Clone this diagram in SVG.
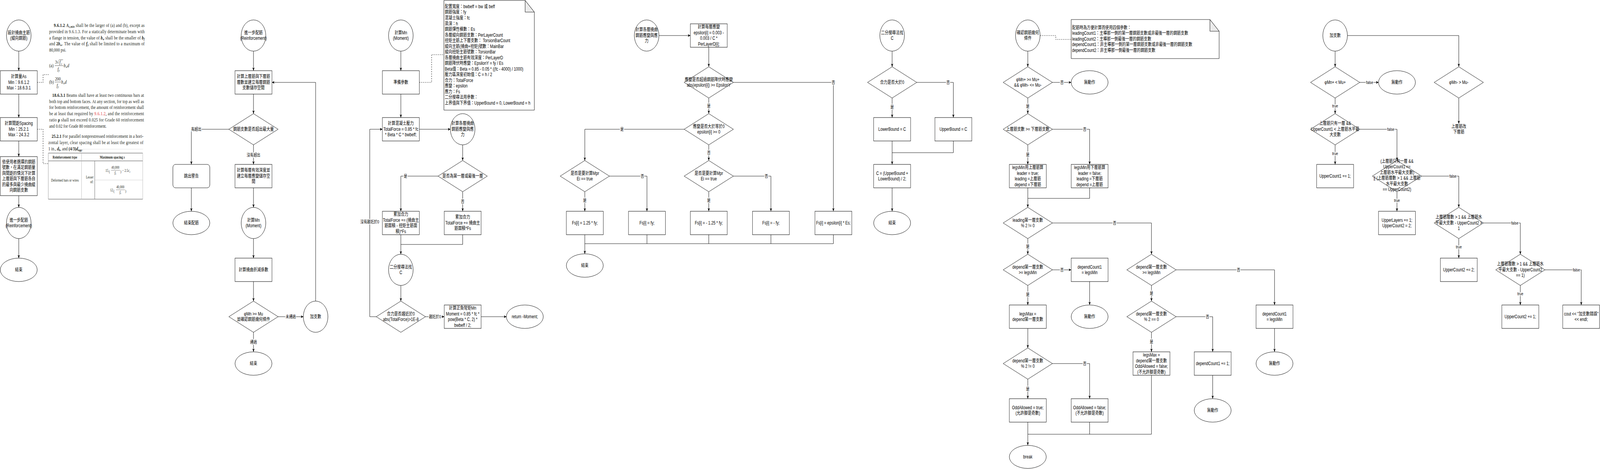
<svg xmlns="http://www.w3.org/2000/svg" width="5201" height="1201" viewBox="0 0 5201 1201" preserveAspectRatio="none">
<defs>
<marker id="ah" viewBox="0 0 10 10" refX="10" refY="5" markerWidth="8" markerHeight="8" markerUnits="userSpaceOnUse" orient="auto"><path d="M0,0.5 L10,5 L0,9.5 L2.5,5 z" fill="#000"/></marker>
<style>
:root{width:100vw;height:100vh}
.s{fill:#fff;stroke:#000;stroke-width:1}
.t{font-family:"Liberation Sans",Arial,"Noto Sans CJK TC",sans-serif;font-size:12px;text-anchor:middle;fill:#000}
.nt{font-family:"Liberation Sans",Arial,"Noto Sans CJK TC",sans-serif;font-size:12px;fill:#000}
.lb{font-family:"Liberation Sans",Arial,"Noto Sans CJK TC",sans-serif;font-size:11px;text-anchor:middle;fill:#000;stroke:#fff;stroke-width:4px;paint-order:stroke;stroke-linejoin:round}
.e{fill:none;stroke:#000;stroke-width:1}
.ea{fill:none;stroke:#000;stroke-width:1;marker-end:url(#ah)}
.dash{fill:none;stroke:#000;stroke-width:1;stroke-dasharray:3 3}
.ser{font-family:"Liberation Serif","Times New Roman",serif;font-size:12.5px;fill:#231f20}
.tb{font-family:"Liberation Serif","Times New Roman",serif;font-size:9.5px;fill:#231f20}
.b{font-weight:bold}
.i{font-style:italic}
.fold{fill:#ebebeb;stroke:#000;stroke-width:1}
</style>
</defs>
<rect width="5201" height="1201" fill="#fff"/>

<!-- ================= ACI code excerpt ================= -->
<g id="aci-excerpt">
<text class="ser" x="175" y="69" textLength="295" lengthAdjust="spacing"><tspan class="b">9.6.1.2</tspan> <tspan class="b i">A</tspan><tspan class="b i" font-size="8" dy="2">s,min</tspan><tspan dy="-2"> shall be the larger of (a) and (b), except as</tspan></text>
<text class="ser" x="160" y="85" textLength="310" lengthAdjust="spacing">provided in 9.6.1.3. For a statically determinate beam with</text>
<text class="ser" x="160" y="101" textLength="310" lengthAdjust="spacing">a flange in tension, the value of <tspan class="b i">b</tspan><tspan class="b i" font-size="8" dy="2">w</tspan><tspan dy="-2"> shall be the smaller of </tspan><tspan class="b i">b</tspan><tspan class="b i" font-size="8" dy="2">f</tspan></text>
<text class="ser" x="160" y="116" textLength="310" lengthAdjust="spacing">and <tspan class="b">2</tspan><tspan class="b i">b</tspan><tspan class="b i" font-size="8" dy="2">w</tspan><tspan dy="-2">. The value of </tspan><tspan class="b i">f</tspan><tspan class="b i" font-size="8" dy="2">y</tspan><tspan dy="-2"> shall be limited to a maximum of</tspan></text>
<text class="ser" x="160" y="132">80,000 psi.</text>
<text class="ser" x="160" y="172">(a)</text>
<text class="ser" x="179" y="163">3</text><text class="ser" x="185" y="163">√</text>
<line x1="192" y1="153" x2="205" y2="153" stroke="#231f20" stroke-width="0.8"/>
<text class="ser" x="193" y="164"><tspan class="i">f</tspan><tspan font-size="8" dy="-4">′</tspan><tspan class="i" font-size="8" dy="6">c</tspan></text>
<line x1="178" y1="168" x2="206" y2="168" stroke="#231f20" stroke-width="0.8"/>
<text class="ser" x="187" y="181"><tspan class="i">f</tspan><tspan class="i" font-size="8" dy="2">y</tspan></text>
<text class="ser" x="207" y="172"><tspan class="i">b</tspan><tspan class="i" font-size="8" dy="2">w</tspan><tspan class="i" dy="-2">d</tspan></text>
<text class="ser" x="160" y="214">(b)</text>
<text class="ser" x="188" y="206" text-anchor="middle">200</text>
<line x1="178" y1="210" x2="198" y2="210" stroke="#231f20" stroke-width="0.8"/>
<text class="ser" x="184" y="223"><tspan class="i">f</tspan><tspan class="i" font-size="8" dy="2">y</tspan></text>
<text class="ser" x="199" y="214"><tspan class="i">b</tspan><tspan class="i" font-size="8" dy="2">w</tspan><tspan class="i" dy="-2">d</tspan></text>
<text class="ser" x="170" y="248" textLength="298" lengthAdjust="spacing"><tspan class="b">18.6.3.1</tspan> Beams shall have at least two continuous bars at</text>
<text class="ser" x="160" y="264" textLength="308" lengthAdjust="spacing">both top and bottom faces. At any section, for top as well as</text>
<text class="ser" x="160" y="279" textLength="308" lengthAdjust="spacing">for bottom reinforcement, the amount of reinforcement shall</text>
<text class="ser" x="160" y="295" textLength="308" lengthAdjust="spacing">be at least that required by <tspan fill="#e03a3e">9.6.1.2</tspan>, and the reinforcement</text>
<text class="ser" x="160" y="311" textLength="308" lengthAdjust="spacing">ratio <tspan class="b">ρ</tspan> shall not exceed 0.025 for Grade 60 reinforcement</text>
<text class="ser" x="160" y="327">and 0.02 for Grade 80 reinforcement.</text>
<text class="ser" x="168" y="353" textLength="298" lengthAdjust="spacing"><tspan class="b">25.2.1</tspan> For parallel nonprestressed reinforcement in a hori-</text>
<text class="ser" x="157" y="369" textLength="309" lengthAdjust="spacing">zontal layer, clear spacing shall be at least the greatest of</text>
<text class="ser" x="157" y="385">1 in., <tspan class="b i">d</tspan><tspan class="b i" font-size="8" dy="2">b</tspan><tspan dy="-2">, and </tspan><tspan class="b">(4/3)</tspan><tspan class="b i">d</tspan><tspan class="b i" font-size="8" dy="2">agg</tspan><tspan dy="-2">.</tspan></text>
<line x1="268" y1="382" x2="465" y2="382" stroke="#dddddd" stroke-width="1"/>
<line x1="157" y1="392" x2="464" y2="392" stroke="#333" stroke-width="1"/>
<line x1="157" y1="412" x2="464" y2="412" stroke="#333" stroke-width="1"/>
<line x1="157" y1="510" x2="464" y2="510" stroke="#333" stroke-width="1"/>
<line x1="157" y1="392" x2="157" y2="510" stroke="#999" stroke-width="1"/>
<line x1="265" y1="392" x2="265" y2="510" stroke="#bbb" stroke-width="1"/>
<line x1="308" y1="412" x2="308" y2="510" stroke="#666" stroke-width="1"/>
<line x1="464" y1="392" x2="464" y2="510" stroke="#bbb" stroke-width="1"/>
<line x1="308" y1="461" x2="464" y2="461" stroke="#ccc" stroke-width="1"/>
<text class="tb b" x="211" y="406" text-anchor="middle">Reinforcement type</text>
<text class="tb b" x="365" y="406" text-anchor="middle">Maximum spacing <tspan class="i">s</tspan></text>
<text class="tb" x="211" y="465" text-anchor="middle">Deformed bars or wires</text>
<text class="tb" x="304" y="457" text-anchor="end">Lesser</text>
<text class="tb" x="304" y="469" text-anchor="end">of:</text>
<text class="tb" x="343" y="440">15</text>
<text class="tb" x="354" y="443" font-size="15">(</text>
<text class="tb" x="375" y="432" text-anchor="middle" font-size="8.5">40,000</text>
<line x1="361" y1="436" x2="390" y2="436" stroke="#231f20" stroke-width="0.6"/>
<text class="tb" x="375" y="446" text-anchor="middle" font-size="8.5"><tspan class="i">f</tspan><tspan class="i" font-size="6.5" dy="1.5">s</tspan></text>
<text class="tb" x="391" y="443" font-size="15">)</text>
<text class="tb" x="397" y="440">− 2.5<tspan class="i">c</tspan><tspan class="i" font-size="7" dy="2">c</tspan></text>
<text class="tb" x="358" y="490">12</text>
<text class="tb" x="369" y="493" font-size="15">(</text>
<text class="tb" x="391" y="482" text-anchor="middle" font-size="8.5">40,000</text>
<line x1="377" y1="486" x2="406" y2="486" stroke="#231f20" stroke-width="0.6"/>
<text class="tb" x="391" y="496" text-anchor="middle" font-size="8.5"><tspan class="i">f</tspan><tspan class="i" font-size="6.5" dy="1.5">s</tspan></text>
<text class="tb" x="407" y="493" font-size="15">)</text>
</g>

<!-- ================= Connectors ================= -->
<g id="connectors">
<path class="ea" d="M61,131 V181"/>
<path class="ea" d="M61,241 V301"/>
<path class="ea" d="M61,361 V401"/>
<path class="ea" d="M61,501 V531"/>
<path class="ea" d="M61,611 V661"/>
<path class="dash" d="M121,211 H140 V191 H158"/>
<path class="dash" d="M121,331 H140 V419 H157"/>
<path class="ea" d="M824,131 V181"/>
<path class="ea" d="M824,241 V291"/>
<path class="ea" d="M744,331 H622 V421"/>
<path class="ea" d="M622,481 V541"/>
<path class="ea" d="M824,371 V421"/>
<path class="ea" d="M824,481 V531"/>
<path class="ea" d="M824,611 V661"/>
<path class="ea" d="M824,721 V771"/>
<path class="ea" d="M904,811 H986"/>
<path class="ea" d="M1026,771 V211 H884"/>
<path class="ea" d="M824,851 V901"/>
<text class="lb" x="638" y="335">有超出</text>
<text class="lb" x="824" y="401">沒有超出</text>
<text class="lb" x="945" y="815">未通過</text>
<text class="lb" x="824" y="880">通過</text>
<path class="ea" d="M1303,131 V181"/>
<path class="dash" d="M1363,211 H1403 V140 H1443"/>
<path class="ea" d="M1303,241 V301"/>
<path class="ea" d="M1363,331 H1464"/>
<path class="ea" d="M1504,371 V411"/>
<path class="ea" d="M1424,451 H1303 V541"/>
<path class="ea" d="M1504,491 V541"/>
<path class="ea" d="M1303,601 V651"/>
<path class="e" d="M1504,601 V626 H1303"/>
<path class="ea" d="M1303,731 V771"/>
<path class="ea" d="M1383,811 H1444"/>
<path class="ea" d="M1564,811 H1646"/>
<path class="ea" d="M1223,811 H1202 V331 H1243"/>
<text class="lb" x="1318" y="455">是</text>
<text class="lb" x="1504" y="520">否</text>
<text class="lb" x="1202" y="572">沒有趨近於0</text>
<text class="lb" x="1414" y="815">趨近於0</text>
<path class="ea" d="M2142,91 H2244"/>
<path class="ea" d="M2304,121 V171"/>
<path class="ea" d="M2384,211 H2709 V541"/>
<path class="ea" d="M2304,251 V291"/>
<path class="ea" d="M2224,331 H1901 V411"/>
<path class="ea" d="M2304,371 V411"/>
<path class="ea" d="M1981,451 H2103 V541"/>
<path class="ea" d="M1901,491 V541"/>
<path class="ea" d="M2384,451 H2506 V541"/>
<path class="ea" d="M2304,491 V541"/>
<path class="e" d="M2103,601 V624 M2304,601 V624 M2506,601 V624 M2709,601 V624 H1901 M1901,601 V624"/>
<path class="ea" d="M1901,624 V650"/>
<text class="lb" x="2709" y="215">否</text>
<text class="lb" x="2304" y="275">是</text>
<text class="lb" x="2022" y="335">是</text>
<text class="lb" x="2304" y="395">否</text>
<text class="lb" x="2088" y="455">否</text>
<text class="lb" x="1901" y="517">是</text>
<text class="lb" x="2491" y="455">否</text>
<text class="lb" x="2304" y="517">是</text>
<path class="ea" d="M2900,131 V171"/>
<path class="ea" d="M2980,211 H3099 V301"/>
<path class="ea" d="M2900,251 V301"/>
<path class="ea" d="M2900,361 V421"/>
<path class="e" d="M3099,361 V391 H2900"/>
<path class="ea" d="M2900,481 V541"/>
<text class="lb" x="3082" y="215">否</text>
<text class="lb" x="2900" y="278">是</text>
<path class="dash" d="M3381,91 H3432 V101 H3482"/>
<path class="ea" d="M3341,131 V171"/>
<path class="ea" d="M3421,211 H3482"/>
<path class="ea" d="M3341,251 V291"/>
<path class="ea" d="M3421,331 H3542 V421"/>
<path class="ea" d="M3341,371 V421"/>
<path class="ea" d="M3341,481 V531"/>
<path class="e" d="M3542,481 V508 H3341"/>
<path class="ea" d="M3421,571 H3743 V651"/>
<path class="ea" d="M3341,611 V651"/>
<path class="ea" d="M3421,691 H3482"/>
<path class="ea" d="M3542,721 V781"/>
<path class="ea" d="M3341,731 V781"/>
<path class="ea" d="M3341,841 V891"/>
<path class="ea" d="M3421,931 H3542 V1021"/>
<path class="ea" d="M3341,971 V1021"/>
<path class="ea" d="M3341,1081 V1140"/>
<path class="e" d="M3542,1081 V1112 M3743,961 V1112 H3341"/>
<path class="ea" d="M3823,691 H4143 V781"/>
<path class="ea" d="M4143,841 V901"/>
<path class="ea" d="M3743,731 V771"/>
<path class="ea" d="M3823,811 H3942 V901"/>
<path class="ea" d="M3942,961 V1021"/>
<path class="ea" d="M3743,851 V901"/>
<text class="lb" x="3452" y="215">否</text>
<text class="lb" x="3341" y="276">是</text>
<text class="lb" x="3526" y="335">否</text>
<text class="lb" x="3341" y="400">是</text>
<text class="lb" x="3623" y="575">否</text>
<text class="lb" x="3341" y="635">是</text>
<text class="lb" x="3452" y="695">否</text>
<text class="lb" x="3341" y="758">是</text>
<text class="lb" x="3526" y="935">否</text>
<text class="lb" x="3341" y="1000">是</text>
<text class="lb" x="4026" y="695">否</text>
<text class="lb" x="3743" y="755">是</text>
<text class="lb" x="3925" y="815">否</text>
<text class="lb" x="3743" y="879">是</text>
<path class="ea" d="M4340,131 V171"/>
<path class="ea" d="M4380,91 H4742 V171"/>
<path class="ea" d="M4420,211 H4481"/>
<path class="ea" d="M4742,251 V317"/>
<path class="ea" d="M4340,251 V291"/>
<path class="ea" d="M4420,331 H4541 V411"/>
<path class="ea" d="M4340,371 V421"/>
<path class="ea" d="M4621,451 H4742 V531"/>
<path class="ea" d="M4541,491 V541"/>
<path class="ea" d="M4822,571 H4942 V651"/>
<path class="ea" d="M4742,611 V661"/>
<path class="ea" d="M5022,691 H5140 V781"/>
<path class="ea" d="M4942,731 V781"/>
<text class="lb" x="4452" y="215">false</text>
<text class="lb" x="4340" y="275">true</text>
<text class="lb" x="4521" y="335">false</text>
<text class="lb" x="4340" y="397">true</text>
<text class="lb" x="4723" y="455">false</text>
<text class="lb" x="4541" y="517">true</text>
<text class="lb" x="4924" y="575">false</text>
<text class="lb" x="4742" y="636">true</text>
<text class="lb" x="5124" y="695">false</text>
<text class="lb" x="4942" y="756">true</text>
</g>

<g id="n1-start"><circle class="s" cx="61" cy="91" r="40"/><text class="t"><tspan x="61" y="87.8">設計撓曲主筋</tspan><tspan x="61" y="102.3">(縱向鋼筋)</tspan></text></g>
<g id="n1-as"><rect class="s" x="1" y="181" width="120" height="60"/><text class="t"><tspan x="61" y="200.5">計算量As</tspan><tspan x="61" y="215">Min：9.6.1.2</tspan><tspan x="61" y="229.5">Max：18.6.3.1</tspan></text></g>
<g id="n1-spacing"><rect class="s" x="1" y="301" width="120" height="60"/><text class="t"><tspan x="61" y="320.5">計算間距Spacing</tspan><tspan x="61" y="335">Min：25.2.1</tspan><tspan x="61" y="349.5">Max：24.3.2</tspan></text></g>
<g id="n1-count"><rect class="s" x="1" y="401" width="120" height="100"/><text class="t"><tspan x="61" y="418.8">依使用者選擇的鋼筋</tspan><tspan x="61" y="433.3">號數，在滿足鋼筋量</tspan><tspan x="61" y="447.8">與間距的情況下計算</tspan><tspan x="61" y="462.3">上層筋與下層筋各自</tspan><tspan x="61" y="476.8">的最多與最少撓曲縱</tspan><tspan x="61" y="491.3">向鋼筋支數</tspan></text></g>
<g id="n1-next"><circle class="s" cx="61" cy="571" r="40"/><text class="t"><tspan x="61" y="567.8">進一步配筋</tspan><tspan x="61" y="582.3">(Reinforcement)</tspan></text></g>
<g id="n1-end"><ellipse class="s" cx="61" cy="691" rx="60" ry="30"/><text class="t" x="61" y="695">結束</text></g>

<g id="n2-start"><circle class="s" cx="824" cy="91" r="40"/><text class="t"><tspan x="824" y="87.8">進一步配筋</tspan><tspan x="824" y="102.3">(Reinforcement)</tspan></text></g>
<g id="n2-layers"><rect class="s" x="764" y="181" width="120" height="60"/><text class="t"><tspan x="824" y="200.5">計算上層筋與下層筋</tspan><tspan x="824" y="215">層數並建立每層鋼筋</tspan><tspan x="824" y="229.5">支數儲存空間</tspan></text></g>
<g id="n2-exceed"><polygon class="s" points="824,291 904,331 824,371 744,331"/><text class="t" x="824" y="335">鋼筋支數是否超出最大量</text></g>
<g id="n2-warn"><rect class="s" x="562" y="421" width="120" height="60" rx="8"/><text class="t" x="622" y="455">跳出警告</text></g>
<g id="n2-endwarn"><ellipse class="s" cx="622" cy="571" rx="60" ry="30"/><text class="t" x="622" y="575">結束配筋</text></g>
<g id="n2-depth"><rect class="s" x="764" y="421" width="120" height="60"/><text class="t"><tspan x="824" y="440.5">計算每層有效深度並</tspan><tspan x="824" y="455">建立每層應變儲存空</tspan><tspan x="824" y="469.5">間</tspan></text></g>
<g id="n2-mn"><circle class="s" cx="824" cy="571" r="40"/><text class="t"><tspan x="824" y="567.8">計算Mn</tspan><tspan x="824" y="582.3">(Moment)</tspan></text></g>
<g id="n2-phi"><rect class="s" x="764" y="661" width="120" height="60"/><text class="t" x="824" y="695">計算撓曲折減係數</text></g>
<g id="n2-check"><polygon class="s" points="824,771 904,811 824,851 744,811"/><text class="t"><tspan x="824" y="807.8">φMn &gt;= Mu</tspan><tspan x="824" y="822.3">並確認鋼筋幾何條件</tspan></text></g>
<g id="n2-add"><circle class="s" cx="1026" cy="811" r="40"/><text class="t" x="1026" y="815">加支數</text></g>
<g id="n2-end"><ellipse class="s" cx="824" cy="931" rx="60" ry="30"/><text class="t" x="824" y="935">結束</text></g>

<g id="n3-start"><circle class="s" cx="1303" cy="91" r="40"/><text class="t"><tspan x="1303" y="87.8">計算Mn</tspan><tspan x="1303" y="102.3">(Moment)</tspan></text></g>
<g id="n3-prep"><rect class="s" x="1243" y="181" width="120" height="60"/><text class="t" x="1303" y="215">準備參數</text></g>
<g id="n3-note"><path class="s" d="M1443,1 H1707 L1737,31 V282 H1443 Z"/><path class="fold" d="M1707,1 V31 H1737 Z"/>
<text class="nt"><tspan x="1446" y="21">配置寬度：bwbeff = bw 或 beff</tspan><tspan x="1446" y="35.5">鋼筋強度：fy</tspan><tspan x="1446" y="50">混凝土強度：fc</tspan><tspan x="1446" y="64.6">梁深：h</tspan><tspan x="1446" y="79.1">鋼筋彈性模數：Es</tspan><tspan x="1446" y="93.6">各層縱向鋼筋支數：PerLayerCount</tspan><tspan x="1446" y="108.2">扭矩主筋上下層支數： TorsionBarCount</tspan><tspan x="1446" y="122.7">縱向主筋(撓曲+扭矩)號數：MainBar</tspan><tspan x="1446" y="137.2">縱向扭矩主筋號數：TorsionBar</tspan><tspan x="1446" y="151.8">各層撓曲主筋有效深度：PerLayerD</tspan><tspan x="1446" y="166.3">鋼筋降伏時應變：EpsilonY = fy / Es</tspan><tspan x="1446" y="180.8">Beta值：Beta = 0.85 - 0.05 * ((fc - 4000) / 1000)</tspan><tspan x="1446" y="195.4">壓力區深度初始值：C = h / 2</tspan><tspan x="1446" y="209.9">合力：TotalForce</tspan><tspan x="1446" y="224.4">應變：epsilon</tspan><tspan x="1446" y="239">應力：Fs</tspan><tspan x="1446" y="253.5">二分搜尋法用參數：</tspan><tspan x="1446" y="268">上界值與下界值：UpperBound = 0, LowerBound = h</tspan></text></g>
<g id="n3-force"><rect class="s" x="1243" y="301" width="120" height="60"/><text class="t"><tspan x="1303" y="320.5">計算混凝土壓力</tspan><tspan x="1303" y="335">TotalForce = 0.85 * fc</tspan><tspan x="1303" y="349.5">* Beta * C * bwbeff;</tspan></text></g>
<g id="n3-strain"><circle class="s" cx="1504" cy="331" r="40"/><text class="t"><tspan x="1504" y="320.5">計算各層撓曲</tspan><tspan x="1504" y="335">鋼筋應變與應</tspan><tspan x="1504" y="349.5">力</tspan></text></g>
<g id="n3-firstlast"><polygon class="s" points="1504,411 1584,451 1504,491 1424,451"/><text class="t" x="1504" y="455">是否為第一層或最後一層</text></g>
<g id="n3-sum1"><rect class="s" x="1243" y="541" width="120" height="60"/><text class="t"><tspan x="1303" y="553.3">累加合力</tspan><tspan x="1303" y="567.8">TotalForce += (撓曲主</tspan><tspan x="1303" y="582.3">筋面積 - 扭矩主筋面</tspan><tspan x="1303" y="596.8">積)*Fs</tspan></text></g>
<g id="n3-sum2"><rect class="s" x="1444" y="541" width="120" height="60"/><text class="t"><tspan x="1504" y="560.5">累加合力</tspan><tspan x="1504" y="575">TotalForce += 撓曲主</tspan><tspan x="1504" y="589.5">筋面積*Fs</tspan></text></g>
<g id="n3-bisect"><circle class="s" cx="1303" cy="691" r="40"/><text class="t"><tspan x="1303" y="687.8">二分搜尋法找</tspan><tspan x="1303" y="702.3">C</tspan></text></g>
<g id="n3-zero"><polygon class="s" points="1303,771 1383,811 1303,851 1223,811"/><text class="t"><tspan x="1303" y="807.8">合力是否趨近於0</tspan><tspan x="1303" y="822.3">abs(TotalForce)&gt;1E-8</tspan></text></g>
<g id="n3-moment"><rect class="s" x="1444" y="781" width="120" height="60"/><text class="t"><tspan x="1504" y="793.3">計算正負彎矩Mn</tspan><tspan x="1504" y="807.8">Moment = 0.85 * fc *</tspan><tspan x="1504" y="822.3">pow(Beta * C, 2) *</tspan><tspan x="1504" y="836.8">bwbeff / 2;</tspan></text></g>
<g id="n3-return"><ellipse class="s" cx="1706" cy="811" rx="60" ry="30"/><text class="t" x="1706" y="815">return -Moment;</text></g>

<g id="n4-start"><circle class="s" cx="2102" cy="91" r="40"/><text class="t"><tspan x="2102" y="80.5">計算各層撓曲</tspan><tspan x="2102" y="95">鋼筋應變與應</tspan><tspan x="2102" y="109.5">力</tspan></text></g>
<g id="n4-eps"><rect class="s" x="2244" y="61" width="120" height="60"/><text class="t"><tspan x="2304" y="73.3">計算每層應變</tspan><tspan x="2304" y="87.8">epsilon[i] = 0.003 -</tspan><tspan x="2304" y="102.3">0.003 / C *</tspan><tspan x="2304" y="116.8">PerLayerD[i];</tspan></text></g>
<g id="n4-yield"><polygon class="s" points="2304,171 2384,211 2304,251 2224,211"/><text class="t"><tspan x="2304" y="207.8">應變是否超過鋼筋降伏時應變</tspan><tspan x="2304" y="222.3">abs(epsilon[i]) &gt;= EpsilonY</tspan></text></g>
<g id="n4-sign"><polygon class="s" points="2304,291 2384,331 2304,371 2224,331"/><text class="t"><tspan x="2304" y="327.8">應變是否大於等於0</tspan><tspan x="2304" y="342.3">epsilon[i] &gt;= 0</tspan></text></g>
<g id="n4-mpr1"><polygon class="s" points="1901,411 1981,451 1901,491 1821,451"/><text class="t"><tspan x="1901" y="447.8">是否是要計算Mpr</tspan><tspan x="1901" y="462.3">Ei == true</tspan></text></g>
<g id="n4-mpr2"><polygon class="s" points="2304,411 2384,451 2304,491 2224,451"/><text class="t"><tspan x="2304" y="447.8">是否是要計算Mpr</tspan><tspan x="2304" y="462.3">Ei == true</tspan></text></g>
<g id="n4-f1"><rect class="s" x="1841" y="541" width="120" height="60"/><text class="t" x="1901" y="575">Fs[i] = 1.25 * fy;</text></g>
<g id="n4-f2"><rect class="s" x="2043" y="541" width="120" height="60"/><text class="t" x="2103" y="575">Fs[i] = fy;</text></g>
<g id="n4-f3"><rect class="s" x="2244" y="541" width="120" height="60"/><text class="t" x="2304" y="575">Fs[i] = - 1.25 * fy;</text></g>
<g id="n4-f4"><rect class="s" x="2446" y="541" width="120" height="60"/><text class="t" x="2506" y="575">Fs[i] = - fy;</text></g>
<g id="n4-f5"><rect class="s" x="2649" y="541" width="120" height="60"/><text class="t" x="2709" y="575">Fs[i] = epsilon[i] * Es;</text></g>
<g id="n4-end"><ellipse class="s" cx="1901" cy="680" rx="60" ry="30"/><text class="t" x="1901" y="684">結束</text></g>

<g id="n5-start"><circle class="s" cx="2900" cy="91" r="40"/><text class="t"><tspan x="2900" y="87.8">二分搜尋法找</tspan><tspan x="2900" y="102.3">C</tspan></text></g>
<g id="n5-pos"><polygon class="s" points="2900,171 2980,211 2900,251 2820,211"/><text class="t" x="2900" y="215">合力是否大於0</text></g>
<g id="n5-lower"><rect class="s" x="2840" y="301" width="120" height="60"/><text class="t" x="2900" y="335">LowerBound = C</text></g>
<g id="n5-upper"><rect class="s" x="3039" y="301" width="120" height="60"/><text class="t" x="3099" y="335">UpperBound = C</text></g>
<g id="n5-mid"><rect class="s" x="2840" y="421" width="120" height="60"/><text class="t"><tspan x="2900" y="447.8">C = (UpperBound +</tspan><tspan x="2900" y="462.3">LowerBound) / 2;</tspan></text></g>
<g id="n5-end"><ellipse class="s" cx="2900" cy="571" rx="60" ry="30"/><text class="t" x="2900" y="575">結束</text></g>

<g id="n6-start"><circle class="s" cx="3341" cy="91" r="40"/><text class="t"><tspan x="3341" y="87.8">確認鋼筋幾何</tspan><tspan x="3341" y="102.3">條件</tspan></text></g>
<g id="n6-note"><path class="s" d="M3482,50 H3933 L3963,80 V150 H3482 Z"/><path class="fold" d="M3933,50 V80 H3963 Z"/>
<text class="nt"><tspan x="3485" y="75">配筋時為方便計算而使用四個參數：</tspan><tspan x="3485" y="89.5">leadingCount1：主導那一側的第一層鋼筋支數或非最後一層的鋼筋支數</tspan><tspan x="3485" y="104">leadingCount2：主導那一側最後一層的鋼筋支數</tspan><tspan x="3485" y="118.5">dependCount1：非主導那一側的第一層鋼筋支數或非最後一層的鋼筋支數</tspan><tspan x="3485" y="133">dependCount2：非主導那一側最後一層的鋼筋支數</tspan></text></g>
<g id="n6-mu"><polygon class="s" points="3341,171 3421,211 3341,251 3261,211"/><text class="t"><tspan x="3341" y="207.8">φMn+ &gt;= Mu+</tspan><tspan x="3341" y="222.3">&amp;&amp; φMn- &lt;= Mu-</tspan></text></g>
<g id="n6-noop1"><ellipse class="s" cx="3542" cy="211" rx="60" ry="30"/><text class="t" x="3542" y="215">無動作</text></g>
<g id="n6-cmp"><polygon class="s" points="3341,291 3421,331 3341,371 3261,331"/><text class="t" x="3341" y="335">上層筋支數 &gt;= 下層筋支數</text></g>
<g id="n6-lead-top"><rect class="s" x="3281" y="421" width="120" height="60"/><text class="t"><tspan x="3341" y="433.3">legsMin用上層筋算</tspan><tspan x="3341" y="447.8">leader = true;</tspan><tspan x="3341" y="462.3">leading =上層筋</tspan><tspan x="3341" y="476.8">depend =下層筋</tspan></text></g>
<g id="n6-lead-bot"><rect class="s" x="3482" y="421" width="120" height="60"/><text class="t"><tspan x="3542" y="433.3">legsMin用下層筋算</tspan><tspan x="3542" y="447.8">leader = false;</tspan><tspan x="3542" y="462.3">leading =下層筋</tspan><tspan x="3542" y="476.8">depend =上層筋</tspan></text></g>
<g id="n6-odd"><polygon class="s" points="3341,531 3421,571 3341,611 3261,571"/><text class="t"><tspan x="3341" y="567.8">leading第一層支數</tspan><tspan x="3341" y="582.3">% 2 != 0</tspan></text></g>
<g id="n6-dep1"><polygon class="s" points="3341,651 3421,691 3341,731 3261,691"/><text class="t"><tspan x="3341" y="687.8">depend第一層支數</tspan><tspan x="3341" y="702.3">&gt;= legsMin</tspan></text></g>
<g id="n6-set1"><rect class="s" x="3482" y="661" width="120" height="60"/><text class="t"><tspan x="3542" y="687.8">dependCount1</tspan><tspan x="3542" y="702.3">= legsMin</tspan></text></g>
<g id="n6-noop2"><ellipse class="s" cx="3542" cy="811" rx="60" ry="30"/><text class="t" x="3542" y="815">無動作</text></g>
<g id="n6-max1"><rect class="s" x="3281" y="781" width="120" height="60"/><text class="t"><tspan x="3341" y="807.8">legsMax =</tspan><tspan x="3341" y="822.3">depend第一層支數</tspan></text></g>
<g id="n6-odd2"><polygon class="s" points="3341,891 3421,931 3341,971 3261,931"/><text class="t"><tspan x="3341" y="927.8">depend第一層支數</tspan><tspan x="3341" y="942.3">% 2 != 0</tspan></text></g>
<g id="n6-oddtrue"><rect class="s" x="3281" y="1021" width="120" height="60"/><text class="t"><tspan x="3341" y="1047.8">OddAllowed = true;</tspan><tspan x="3341" y="1062.3">(允許腳是奇數)</tspan></text></g>
<g id="n6-oddfalse"><rect class="s" x="3482" y="1021" width="120" height="60"/><text class="t"><tspan x="3542" y="1047.8">OddAllowed = false;</tspan><tspan x="3542" y="1062.3">(不允許腳是奇數)</tspan></text></g>
<g id="n6-break"><ellipse class="s" cx="3341" cy="1170" rx="60" ry="29.5"/><text class="t" x="3341" y="1174">break</text></g>
<g id="n6-dep2"><polygon class="s" points="3743,651 3823,691 3743,731 3663,691"/><text class="t"><tspan x="3743" y="687.8">depend第一層支數</tspan><tspan x="3743" y="702.3">&gt;= legsMin</tspan></text></g>
<g id="n6-set2"><rect class="s" x="4083" y="781" width="120" height="60"/><text class="t"><tspan x="4143" y="807.8">dependCount1</tspan><tspan x="4143" y="822.3">= legsMin</tspan></text></g>
<g id="n6-noop3"><ellipse class="s" cx="4143" cy="931" rx="60" ry="30"/><text class="t" x="4143" y="935">無動作</text></g>
<g id="n6-even"><polygon class="s" points="3743,771 3823,811 3743,851 3663,811"/><text class="t"><tspan x="3743" y="807.8">depend第一層支數</tspan><tspan x="3743" y="822.3">% 2 == 0</tspan></text></g>
<g id="n6-inc"><rect class="s" x="3882" y="901" width="120" height="60"/><text class="t" x="3942" y="935">dependCount1 += 1;</text></g>
<g id="n6-noop4"><ellipse class="s" cx="3942" cy="1051" rx="60" ry="30"/><text class="t" x="3942" y="1055">無動作</text></g>
<g id="n6-max2"><rect class="s" x="3683" y="901" width="120" height="60"/><text class="t"><tspan x="3743" y="913.3">legsMax =</tspan><tspan x="3743" y="927.8">depend第一層支數</tspan><tspan x="3743" y="942.3">OddAllowed = false;</tspan><tspan x="3743" y="956.8">(不允許腳是奇數)</tspan></text></g>

<g id="n7-start"><circle class="s" cx="4340" cy="91" r="40"/><text class="t" x="4340" y="95">加支數</text></g>
<g id="n7-pos"><polygon class="s" points="4340,171 4420,211 4340,251 4260,211"/><text class="t" x="4340" y="215">φMn+ &lt; Mu+</text></g>
<g id="n7-noop"><ellipse class="s" cx="4541" cy="211" rx="60" ry="30"/><text class="t" x="4541" y="215">無動作</text></g>
<g id="n7-neg"><polygon class="s" points="4742,171 4822,211 4742,251 4662,211"/><text class="t" x="4742" y="215">φMn- &gt; Mu-</text></g>
<g id="n7-swap"><text class="t"><tspan x="4742" y="327.8">上層筋改</tspan><tspan x="4742" y="342.3">下層筋</tspan></text></g>
<g id="n7-c1"><polygon class="s" points="4340,291 4420,331 4340,371 4260,331"/><text class="t"><tspan x="4340" y="320.5">上層筋只有一層 &amp;&amp;</tspan><tspan x="4340" y="335">UpperCount1 &lt; 上層筋水平最</tspan><tspan x="4340" y="349.5">大支數</tspan></text></g>
<g id="n7-a1"><rect class="s" x="4280" y="421" width="120" height="60"/><text class="t" x="4340" y="455">UpperCount1 += 1;</text></g>
<g id="n7-c2"><polygon class="s" points="4541,411 4621,451 4541,491 4461,451"/><text class="t"><tspan x="4541" y="416.8">(上層筋只有一層 &amp;&amp;</tspan><tspan x="4541" y="431.3">UpperCount1 ==</tspan><tspan x="4541" y="445.8">上層筋水平最大支數)</tspan><tspan x="4541" y="460.3">|| (上層筋層數 &gt; 1 &amp;&amp; 上層筋</tspan><tspan x="4541" y="474.8">水平最大支數</tspan><tspan x="4541" y="489.3">== UpperCount2)</tspan></text></g>
<g id="n7-a2"><rect class="s" x="4481" y="541" width="120" height="60"/><text class="t"><tspan x="4541" y="567.8">UpperLayers += 1;</tspan><tspan x="4541" y="582.3">UpperCount2 = 2;</tspan></text></g>
<g id="n7-c3"><polygon class="s" points="4742,531 4822,571 4742,611 4662,571"/><text class="t"><tspan x="4742" y="560.5">上層筋層數 &gt; 1 &amp;&amp; 上層筋水</tspan><tspan x="4742" y="575">平最大支數 - UpperCount2 &gt;</tspan><tspan x="4742" y="589.5">1</tspan></text></g>
<g id="n7-a3"><rect class="s" x="4682" y="661" width="120" height="60"/><text class="t" x="4742" y="695">UpperCount2 += 2;</text></g>
<g id="n7-c4"><polygon class="s" points="4942,651 5022,691 4942,731 4862,691"/><text class="t"><tspan x="4942" y="680.5">上層筋層數 &gt; 1 &amp;&amp; 上層筋水</tspan><tspan x="4942" y="695">平最大支數 - UpperCount2</tspan><tspan x="4942" y="709.5">== 1)</tspan></text></g>
<g id="n7-a4"><rect class="s" x="4882" y="781" width="120" height="60"/><text class="t" x="4942" y="815">UpperCount2 += 1;</text></g>
<g id="n7-err"><rect class="s" x="5080" y="781" width="119.5" height="60"/><text class="t"><tspan x="5140" y="807.8">cout &lt;&lt; "加支數錯誤"</tspan><tspan x="5140" y="822.3">&lt;&lt; endl;</tspan></text></g>
</svg>
